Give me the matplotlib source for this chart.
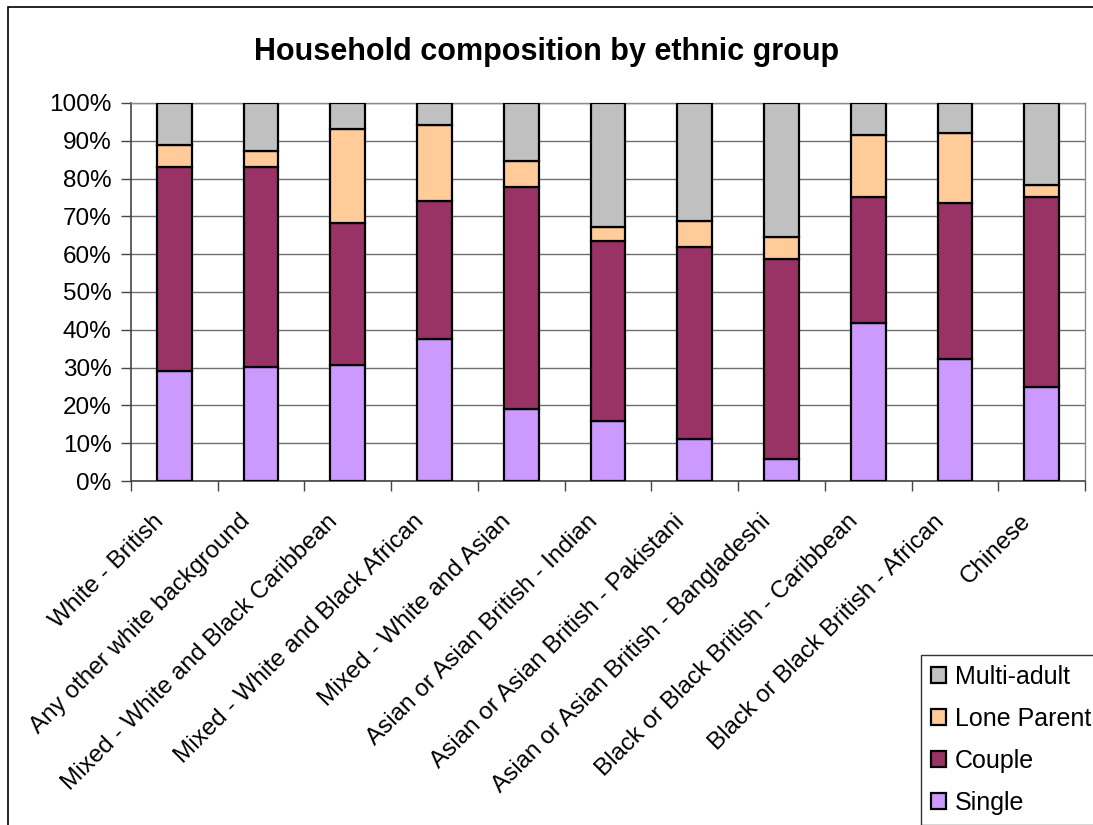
import matplotlib
matplotlib.use("Agg")
import matplotlib.pyplot as plt
from matplotlib.patches import Rectangle
from matplotlib.ticker import PercentFormatter, FixedLocator, MultipleLocator
from matplotlib.transforms import ScaledTranslation
import numpy as np

plt.rcParams['font.family'] = ['Liberation Sans', 'DejaVu Sans']

groups = [
    "White - British",
    "Any other white background",
    "Mixed - White and Black Caribbean",
    "Mixed - White and Black African",
    "Mixed - White and Asian",
    "Asian or Asian British - Indian",
    "Asian or Asian British - Pakistani",
    "Asian or Asian British - Bangladeshi",
    "Black or Black British - Caribbean",
    "Black or Black British - African",
    "Chinese",
]

single = [29.1, 30.1, 30.6, 37.5, 19.0, 15.9, 11.1, 5.8, 41.8, 32.3, 24.9]
couple = [54.0, 53.0, 37.7, 36.6, 58.8, 47.6, 50.8, 52.9, 33.3, 41.2, 50.2]
lone_parent = [5.8, 4.2, 24.9, 20.1, 6.9, 3.7, 6.9, 5.9, 16.4, 18.6, 3.2]
multi_adult = [100 - s - c - l for s, c, l in zip(single, couple, lone_parent)]

series = [
    ("Single", single, "#CC99FF"),
    ("Couple", couple, "#993366"),
    ("Lone Parent", lone_parent, "#FFCC99"),
    ("Multi-adult", multi_adult, "#C0C0C0"),
]

W, H = 1093, 825
fig = plt.figure(figsize=(W / 100, H / 100), dpi=100)
fig.patch.set_facecolor("white")

# chart-area frame
fig.patches.append(Rectangle((8 / W, -0.05), 1.2, 1 - 7 / H + 0.05,
                             transform=fig.transFigure, fill=False,
                             edgecolor="black", linewidth=1.2))

ax = fig.add_axes([131 / W, 1 - 481 / H, (1085 - 131) / W, (481 - 103) / H])

x = np.arange(len(groups))
bottom = np.zeros(len(groups))
handles = []
for name, vals, color in series:
    vals = np.array(vals)
    b = ax.bar(x, vals, bottom=bottom, width=0.4, color=color,
               edgecolor="black", linewidth=1.6, label=name, zorder=3)
    handles.append(b)
    bottom += vals

ax.set_xlim(-0.5, len(groups) - 0.5)
ax.set_ylim(0, 100)
ax.yaxis.set_major_locator(MultipleLocator(10))
ax.yaxis.set_major_formatter(PercentFormatter(decimals=0))
ax.grid(axis="y", color="#6f6f6f", linewidth=1.0, zorder=0)
ax.set_axisbelow(True)

ax.set_xticks(x)
ax.set_xticklabels(groups, rotation=45, ha="right", va="center",
                   rotation_mode="anchor", fontsize=17.5)
ax.tick_params(axis="x", length=0, pad=16)
shift = ScaledTranslation(-0.14, -0.15, fig.dpi_scale_trans)
for lbl in ax.get_xticklabels():
    lbl.set_transform(lbl.get_transform() + shift)
ax.xaxis.set_minor_locator(FixedLocator(np.arange(-0.5, len(groups), 1.0)))
ax.tick_params(axis="x", which="minor", length=7, width=1, color="#444444")
ax.tick_params(axis="y", labelsize=17.5, length=7, width=1, color="#444444", pad=7)

for side in ("top", "right"):
    ax.spines[side].set_color("#8a8a8a")
    ax.spines[side].set_linewidth(1.0)
for side in ("left", "bottom"):
    ax.spines[side].set_color("#444444")
    ax.spines[side].set_linewidth(1.2)

fig.text(0.5, 1 - 52 / H, "Household composition by ethnic group",
         ha="center", va="center", fontsize=22, fontweight="bold")

leg = fig.legend(handles[::-1], [s[0] for s in series][::-1],
                 loc="upper left", bbox_to_anchor=(921 / W, 1 - 655 / H),
                 fontsize=18, frameon=True, fancybox=False,
                 edgecolor="black", handlelength=0.6, handleheight=0.6,
                 handletextpad=0.35, labelspacing=0.72, borderpad=0.4,
                 borderaxespad=0)
leg.get_frame().set_linewidth(1.0)

fig.savefig("out.png", dpi=100)
